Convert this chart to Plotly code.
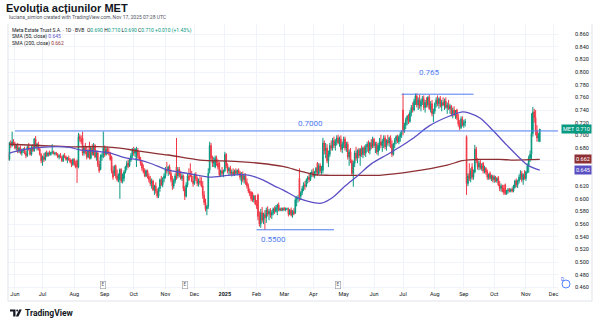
import plotly.graph_objects as go
import pandas as pd

# ---------------- data (prices in thousandths of RON) ----------------
opens = [
    670, 662, 688, 684, 690, 686, 680, 684, 675, 680,
    672, 676, 678, 672, 668, 682, 678, 670, 682, 676,
    694, 682, 686, 678, 670, 660, 666, 662, 672, 668,
    672, 670, 673, 674, 671, 672, 670, 666, 668, 665,
    660, 668, 666, 662, 664, 661, 658, 654, 662, 655,
    660, 650, 698, 694, 696, 672, 680, 674, 666, 684,
    664, 680, 670, 684, 666, 672, 654, 646, 666, 668,
    680, 670, 678, 674, 672, 666, 644, 640, 652, 636,
    630, 630, 646, 628, 632, 642, 650, 656, 652, 661,
    668, 676, 672, 660, 676, 668, 662, 656, 648, 645,
    636, 644, 635, 630, 624, 628, 614, 620, 612, 604,
    616, 630, 622, 632, 636, 646, 644, 650, 640, 630,
    620, 628, 650, 636, 646, 638, 632, 636, 616, 604,
    622, 636, 640, 636, 628, 624, 638, 632, 624, 628,
    626, 620, 606, 594, 584, 588, 645, 684, 664, 656,
    650, 664, 656, 656, 638, 644, 640, 644, 670, 652,
    644, 648, 640, 642, 638, 644, 640, 645, 641, 628,
    638, 630, 636, 626, 620, 612, 610, 609, 598, 604,
    592, 606, 572, 560, 578, 566, 575, 570, 582, 576,
    580, 574, 578, 584, 580, 586, 590, 582, 584, 582,
    585, 583, 584, 584, 576, 582, 574, 580, 578, 598,
    600, 632, 604, 610, 616, 622, 620, 630, 634, 630,
    640, 642, 636, 642, 656, 640, 652, 644, 645, 688,
    676, 680, 660, 670, 684, 680, 692, 684, 690, 696,
    688, 694, 678, 686, 694, 680, 686, 666, 674, 660,
    640, 656, 672, 664, 676, 668, 678, 670, 680, 672,
    682, 686, 676, 688, 682, 694, 684, 686, 674, 684,
    690, 684, 690, 696, 682, 692, 688, 696, 686, 670,
    686, 692, 698, 690, 698, 702, 740, 706, 716, 724,
    730, 722, 736, 744, 740, 754, 762, 748, 756, 746,
    754, 758, 744, 752, 748, 760, 742, 750, 734, 738,
    750, 756, 750, 758, 746, 752, 748, 754, 744, 748,
    742, 746, 734, 740, 732, 740, 728, 718, 712, 726,
    716, 720, 698, 624, 640, 632, 650, 634, 642, 678,
    660, 650, 656, 648, 656, 644, 648, 643, 634, 640,
    632, 636, 630, 634, 628, 633, 622, 616, 620, 616,
    622, 608, 612, 614, 612, 615, 612, 618, 628, 622,
    628, 634, 640, 630, 638, 632, 642, 652, 664, 670,
    703, 737, 728, 708, 696, 690,
]
highs = [
    674, 690, 692, 706, 694, 690, 686, 688, 682, 684,
    678, 680, 682, 676, 684, 688, 680, 684, 686, 696,
    699, 688, 690, 680, 672, 668, 672, 674, 676, 674,
    676, 674, 686, 676, 674, 674, 672, 670, 672, 668,
    670, 672, 668, 666, 668, 664, 662, 664, 664, 660,
    662, 704, 702, 700, 706, 684, 688, 682, 678, 690,
    682, 686, 688, 686, 676, 676, 660, 670, 672, 706,
    684, 682, 682, 680, 674, 668, 652, 653, 654, 646,
    640, 648, 648, 640, 645, 652, 660, 662, 664, 672,
    680, 682, 680, 682, 680, 674, 666, 660, 654, 648,
    646, 646, 640, 636, 632, 630, 622, 626, 616, 618,
    632, 636, 634, 640, 650, 658, 652, 654, 646, 636,
    632, 640, 696, 650, 650, 644, 640, 638, 620, 626,
    640, 648, 656, 644, 636, 640, 642, 635, 632, 635,
    634, 628, 612, 600, 590, 648, 690, 688, 668, 666,
    668, 668, 662, 658, 646, 650, 646, 674, 672, 656,
    650, 652, 646, 648, 646, 648, 646, 648, 644, 642,
    643, 640, 640, 632, 624, 616, 612, 611, 606, 606,
    598, 608, 580, 584, 587, 578, 582, 586, 588, 584,
    585, 582, 586, 588, 590, 592, 594, 586, 586, 586,
    587, 586, 586, 586, 584, 586, 582, 585, 603, 604,
    606, 648, 612, 620, 626, 628, 632, 636, 640, 642,
    646, 648, 644, 650, 658, 656, 656, 652, 696, 692,
    688, 686, 676, 688, 692, 696, 698, 694, 700, 701,
    698, 700, 690, 698, 698, 690, 690, 678, 680, 662,
    660, 676, 682, 678, 680, 680, 684, 682, 684, 686,
    690, 692, 690, 694, 698, 696, 690, 690, 688, 696,
    701, 694, 700, 700, 694, 701, 698, 700, 692, 688,
    696, 700, 701, 700, 706, 708, 766, 720, 728, 732,
    734, 740, 748, 752, 758, 766, 766, 760, 764, 758,
    762, 763, 756, 760, 762, 764, 754, 756, 742, 752,
    760, 763, 760, 762, 756, 760, 758, 760, 752, 756,
    750, 748, 744, 746, 740, 742, 734, 724, 730, 730,
    724, 726, 700, 640, 656, 648, 656, 646, 685, 682,
    664, 660, 661, 656, 658, 652, 650, 646, 640, 643,
    638, 638, 637, 636, 634, 636, 628, 624, 622, 622,
    624, 614, 617, 617, 616, 618, 622, 630, 632, 630,
    638, 645, 644, 640, 645, 644, 656, 668, 676, 735,
    745, 742, 740, 716, 704, 710,
]
lows = [
    660, 660, 680, 682, 684, 678, 676, 672, 672, 670,
    668, 672, 670, 664, 666, 676, 668, 668, 674, 674,
    680, 676, 676, 668, 656, 652, 658, 660, 666, 666,
    668, 668, 670, 670, 668, 668, 664, 662, 664, 658,
    658, 664, 660, 656, 660, 656, 650, 652, 652, 648,
    625, 648, 690, 686, 668, 668, 670, 662, 664, 662,
    662, 668, 668, 664, 660, 650, 641, 645, 660, 664,
    666, 668, 670, 668, 660, 640, 630, 636, 632, 627,
    626, 600, 625, 624, 627, 640, 645, 648, 650, 658,
    664, 668, 666, 650, 664, 660, 652, 644, 640, 634,
    634, 632, 626, 620, 616, 612, 606, 608, 601, 601,
    611, 620, 618, 626, 632, 640, 636, 638, 626, 614,
    616, 624, 630, 632, 634, 630, 628, 612, 598, 602,
    618, 628, 634, 626, 619, 622, 628, 620, 619, 622,
    618, 600, 590, 580, 574, 584, 640, 660, 650, 650,
    648, 652, 646, 634, 634, 636, 634, 642, 648, 640,
    636, 638, 635, 636, 636, 638, 637, 638, 630, 622,
    626, 624, 622, 616, 609, 604, 596, 595, 594, 590,
    584, 566, 556, 554, 562, 560, 551, 562, 572, 566,
    570, 568, 574, 576, 578, 574, 580, 580, 581, 580,
    581, 580, 582, 572, 574, 572, 570, 574, 576, 588,
    594, 596, 598, 606, 612, 614, 618, 624, 626, 628,
    634, 634, 632, 636, 636, 638, 640, 638, 640, 670,
    664, 656, 650, 666, 676, 676, 680, 676, 684, 686,
    682, 674, 672, 680, 676, 674, 662, 652, 656, 636,
    619, 650, 660, 656, 664, 652, 666, 664, 668, 666,
    674, 672, 670, 678, 680, 680, 672, 670, 668, 676,
    680, 674, 680, 678, 676, 684, 682, 680, 666, 668,
    680, 686, 688, 686, 690, 696, 700, 704, 710, 716,
    718, 720, 730, 736, 738, 748, 744, 740, 742, 738,
    748, 740, 736, 744, 744, 740, 736, 730, 721, 734,
    744, 746, 742, 744, 738, 746, 740, 742, 734, 740,
    734, 730, 727, 730, 726, 724, 714, 708, 710, 714,
    712, 714, 606, 620, 628, 626, 630, 630, 640, 656,
    646, 645, 646, 644, 640, 640, 638, 630, 630, 630,
    628, 626, 625, 626, 625, 620, 612, 611, 610, 606,
    606, 606, 608, 610, 610, 610, 610, 616, 618, 617,
    624, 630, 626, 622, 630, 628, 640, 641, 658, 661,
    698, 720, 700, 690, 690, 690,
]
closes = [
    662, 688, 684, 690, 686, 680, 684, 675, 680, 672,
    676, 678, 672, 668, 682, 678, 670, 682, 676, 694,
    682, 686, 678, 670, 660, 666, 662, 672, 668, 672,
    670, 673, 674, 671, 672, 670, 666, 668, 665, 660,
    668, 666, 662, 664, 661, 658, 654, 662, 655, 650,
    650, 698, 694, 690, 672, 680, 674, 666, 676, 664,
    680, 670, 684, 666, 672, 654, 644, 666, 668, 680,
    670, 678, 674, 672, 662, 644, 634, 650, 636, 630,
    638, 646, 628, 638, 642, 650, 656, 652, 661, 668,
    676, 672, 678, 676, 668, 662, 656, 648, 642, 636,
    644, 635, 630, 624, 628, 614, 620, 612, 604, 616,
    630, 622, 632, 636, 646, 644, 650, 640, 630, 620,
    628, 636, 636, 646, 638, 632, 636, 616, 604, 622,
    636, 630, 636, 628, 624, 638, 632, 624, 628, 626,
    620, 606, 594, 584, 588, 640, 684, 664, 656, 660,
    664, 656, 650, 638, 644, 640, 642, 670, 652, 644,
    648, 640, 642, 638, 644, 640, 645, 641, 634, 638,
    630, 636, 626, 620, 612, 608, 600, 598, 604, 592,
    588, 572, 560, 578, 566, 575, 570, 582, 576, 580,
    574, 578, 584, 580, 586, 590, 582, 584, 582, 585,
    583, 584, 584, 576, 582, 574, 580, 576, 598, 600,
    602, 604, 610, 616, 622, 620, 630, 634, 630, 640,
    642, 636, 642, 648, 640, 652, 644, 648, 688, 676,
    680, 660, 670, 684, 680, 692, 684, 690, 696, 688,
    694, 678, 686, 694, 680, 686, 666, 674, 660, 640,
    656, 672, 664, 676, 668, 678, 670, 680, 672, 682,
    686, 676, 688, 682, 694, 684, 686, 674, 684, 690,
    684, 690, 696, 682, 692, 688, 696, 686, 670, 686,
    692, 698, 690, 698, 702, 704, 706, 716, 724, 730,
    722, 736, 744, 740, 754, 762, 748, 756, 746, 754,
    758, 744, 752, 748, 760, 742, 750, 734, 738, 750,
    756, 750, 758, 746, 752, 748, 754, 744, 748, 742,
    746, 734, 740, 732, 736, 728, 718, 712, 726, 716,
    720, 722, 624, 636, 632, 644, 634, 640, 678, 660,
    650, 656, 648, 652, 644, 648, 642, 634, 638, 632,
    636, 630, 634, 628, 632, 622, 616, 620, 612, 610,
    608, 612, 614, 612, 615, 612, 620, 628, 622, 628,
    634, 640, 630, 638, 632, 642, 652, 664, 670, 703,
    737, 728, 708, 696, 700, 710,
]
first_session = "2024-05-27"

sma50_dates = ["2024-05-28", "2024-06-10", "2024-06-20", "2024-07-08", "2024-07-29",
               "2024-08-07", "2024-08-22", "2024-09-06", "2024-09-24", "2024-10-03",
               "2024-10-17", "2024-11-05", "2024-11-25", "2024-12-17", "2025-01-03",
               "2025-01-17", "2025-01-27", "2025-02-07", "2025-02-20", "2025-02-28",
               "2025-03-18", "2025-04-01", "2025-04-09", "2025-04-21", "2025-05-02",
               "2025-05-15", "2025-05-29", "2025-06-13", "2025-06-27", "2025-07-10",
               "2025-07-28", "2025-08-14", "2025-08-29", "2025-09-05", "2025-09-17",
               "2025-09-30", "2025-10-14", "2025-10-28", "2025-11-05", "2025-11-17"]
sma50_vals = [672, 677, 680, 682, 681, 677, 675, 672, 664, 662,
              656, 645, 640, 634, 637, 638, 637, 630, 620, 614,
              600, 594, 593, 602, 620, 636, 655, 669, 682, 695,
              715, 729, 737, 735, 727, 708, 685, 663, 652, 645]

sma200_dates = ["2024-05-28", "2024-06-27", "2024-07-29", "2024-09-02", "2024-09-17",
                "2024-10-07", "2024-11-05", "2024-12-06", "2025-01-10", "2025-02-05",
                "2025-02-28", "2025-03-18", "2025-04-02", "2025-04-17", "2025-05-19",
                "2025-06-06", "2025-07-10", "2025-08-14", "2025-08-29", "2025-09-17",
                "2025-10-07", "2025-10-21", "2025-11-17"]
sma200_vals = [686, 684, 682, 682, 680, 675, 669, 661, 659, 656,
               651, 644, 638, 637, 637, 637, 643, 653, 660, 662,
               662, 661, 662]

tick_dates = ["2024-06-03", "2024-07-01", "2024-08-01", "2024-09-02", "2024-10-01",
              "2024-11-01", "2024-12-02", "2025-01-01", "2025-02-03", "2025-03-03",
              "2025-04-01", "2025-05-01", "2025-06-02", "2025-07-01", "2025-08-01",
              "2025-09-01", "2025-10-01", "2025-11-03", "2025-12-01"]
tick_labels = ["Jun", "Jul", "Aug", "Sep", "Oct", "Nov", "Dec", "<b>2025</b>", "Feb", "Mar",
               "Apr", "May", "Jun", "Jul", "Aug", "Sep", "Oct", "Nov", "Dec"]

price_ticks = [0.46, 0.48, 0.50, 0.52, 0.54, 0.56, 0.58, 0.60, 0.62, 0.64, 0.66,
               0.68, 0.70, 0.72, 0.74, 0.76, 0.78, 0.80, 0.82, 0.84, 0.86]
price_tick_labels = ["0.460", "0.480", "0.500", "0.520", "0.540", "0.560", "0.580", "0.600",
                     "0.620", "", "", "0.680", "0.700", "0.720", "0.740", "0.760", "0.780",
                     "0.800", "0.820", "0.840", "0.860"]

earnings_dates = ["2024-08-30", "2024-11-21", "2025-04-25"]

level_values = [0.707, 0.765, 0.551]
level_starts = ["2024-06-03", "2025-06-30", "2025-02-03"]
level_ends = ["2025-12-10", "2025-09-10", "2025-04-22"]
level_texts = ["0.7000", "0.765", "0.5500"]
level_text_dates = ["2025-03-28", "2025-07-28", "2025-02-19"]
level_text_values = [0.719, 0.7995, 0.536]

last_price = 0.710
sma50_last = 0.645
sma200_last = 0.662

# ---------------- styling ----------------
UP = "#089981"
DOWN = "#F23645"
SMA50_C = "#5B4FC4"
SMA200_C = "#8E2F33"
DRAW_C = "#4F7BEF"
GRID = "#F0F3FA"
TXT = "#131722"
FONT = "Roboto, 'Liberation Sans', sans-serif"

W, H = 600, 325
ML, MR, MT, MB = 8, 42, 24, 36
PW, PH = W - ML - MR, H - MT - MB


def px(x):
    return (x - ML) / PW


def py(y):
    return (H - MB - y) / PH


dates = pd.bdate_range(first_session, periods=len(closes))
k = 1000.0

fig = go.Figure()
fig.add_trace(go.Candlestick(
    x=dates,
    open=[v / k for v in opens], high=[v / k for v in highs],
    low=[v / k for v in lows], close=[v / k for v in closes],
    increasing=dict(line=dict(color=UP, width=1), fillcolor=UP),
    decreasing=dict(line=dict(color=DOWN, width=1), fillcolor=DOWN),
    whiskerwidth=0, showlegend=False, hoverinfo="skip",
))
fig.add_trace(go.Scatter(x=sma200_dates, y=[v / k for v in sma200_vals], mode="lines",
                         line=dict(color=SMA200_C, width=1.3, shape="spline", smoothing=0.8),
                         showlegend=False, hoverinfo="skip"))
fig.add_trace(go.Scatter(x=sma50_dates, y=[v / k for v in sma50_vals], mode="lines",
                         line=dict(color=SMA50_C, width=1.3, shape="spline", smoothing=0.8),
                         showlegend=False, hoverinfo="skip"))

shapes = []
annotations = []

# drawn horizontal levels
for val, s, e in zip(level_values, level_starts, level_ends):
    shapes.append(dict(type="line", xref="x", yref="y", x0=s, x1=e, y0=val, y1=val,
                       line=dict(color=DRAW_C, width=1)))
for t, d, v in zip(level_texts, level_text_dates, level_text_values):
    annotations.append(dict(x=d, y=v, xref="x", yref="y", text=t, showarrow=False,
                            font=dict(size=8, color=DRAW_C, family=FONT)))

# earnings markers
for d in earnings_dates:
    annotations.append(dict(x=d, y=py(285), xref="x", yref="paper", text="E", showarrow=False,
                            font=dict(size=4.5, color="#50535E", family=FONT),
                            bordercolor="#9598A1", borderwidth=0.6, borderpad=0.8,
                            bgcolor="white", yanchor="middle"))

# chart frame
shapes.append(dict(type="line", xref="paper", yref="paper", x0=px(8), x1=px(8), y0=py(301), y1=py(24),
                   line=dict(color="#E0E3EB", width=1)))
shapes.append(dict(type="line", xref="paper", yref="paper", x0=px(8), x1=px(592), y0=py(301), y1=py(301),
                   line=dict(color="#E0E3EB", width=1)))
shapes.append(dict(type="line", xref="paper", yref="paper", x0=px(592), x1=px(592), y0=py(301), y1=py(24),
                   line=dict(color="#E0E3EB", width=1)))


# price tags on the axis
def tag(text, yval, x0, color):
    annotations.append(dict(x=px(x0), y=yval, xref="paper", yref="y", text=text, showarrow=False,
                            xanchor="left", yanchor="middle", bgcolor=color, borderpad=1,
                            font=dict(size=5.5, color="white", family=FONT)))


tag("MET", last_price, 561, UP)
tag("%.3f" % last_price, last_price, 574, UP)
tag("%.3f" % sma200_last, sma200_last, 574, SMA200_C)
tag("%.3f" % sma50_last, sma50_last, 574, SMA50_C)

# dividend marker on axis corner
shapes.append(dict(type="circle", xref="paper", yref="paper", x0=px(562), x1=px(570), y0=py(288), y1=py(280),
                   line=dict(color="#2962FF", width=0.8), fillcolor="white"))
annotations.append(dict(x=px(566), y=py(284), xref="paper", yref="paper", text="D", showarrow=False,
                        font=dict(size=4.5, color="#2962FF", family=FONT)))

# header texts
annotations.append(dict(x=px(4), y=py(8), xref="paper", yref="paper", xanchor="left", yanchor="middle",
                        text="<b>Evoluția acțiunilor MET</b>", showarrow=False,
                        font=dict(size=11, color=TXT, family="'Liberation Sans', Arial, sans-serif")))
annotations.append(dict(x=px(7), y=py(17.5), xref="paper", yref="paper", xanchor="left", yanchor="middle",
                        text="luciana_simion created with TradingView.com, Nov 17, 2025 07:28 UTC",
                        showarrow=False, font=dict(size=5, color="#50535E", family=FONT)))
g = '<span style="color:%s">%%s</span>' % UP
legend1 = ("Meta Estate Trust S.A. · 1D · BVB  O" + g % "0.690" + " H" + g % "0.710" +
           " L" + g % "0.690" + " C" + g % "0.710" + " " + g % "+0.010 (+1.43%)")
annotations.append(dict(x=px(10), y=py(30), xref="paper", yref="paper", xanchor="left", yanchor="middle",
                        text=legend1, showarrow=False, font=dict(size=5, color=TXT, family=FONT)))
annotations.append(dict(x=px(10), y=py(36.5), xref="paper", yref="paper", xanchor="left", yanchor="middle",
                        text='SMA (50, close) <span style="color:%s">0.645</span>' % SMA50_C,
                        showarrow=False, font=dict(size=5, color=TXT, family=FONT)))
annotations.append(dict(x=px(10), y=py(43), xref="paper", yref="paper", xanchor="left", yanchor="middle",
                        text='SMA (200, close) <span style="color:%s">0.662</span>' % SMA200_C,
                        showarrow=False, font=dict(size=5, color=TXT, family=FONT)))

# TradingView logo
shapes.append(dict(type="path", xref="paper", yref="paper", fillcolor=TXT, line=dict(width=0),
                   path="M %f %f L %f %f L %f %f L %f %f L %f %f L %f %f Z" % (
                       px(10), py(309.5), px(15.5), py(309.5), px(15.5), py(316.5), px(13.2), py(316.5),
                       px(13.2), py(311.6), px(10), py(311.6))))
shapes.append(dict(type="circle", xref="paper", yref="paper", fillcolor=TXT, line=dict(width=0),
                   x0=px(16.2), x1=px(18.2), y0=py(311.6), y1=py(309.5)))
shapes.append(dict(type="path", xref="paper", yref="paper", fillcolor=TXT, line=dict(width=0),
                   path="M %f %f L %f %f L %f %f L %f %f Z" % (
                       px(19.2), py(309.5), px(21.8), py(309.5), px(18.4), py(316.5), px(15.8), py(316.5))))
annotations.append(dict(x=px(23), y=py(313), xref="paper", yref="paper", xanchor="left", yanchor="middle",
                        text="<b>TradingView</b>", showarrow=False,
                        font=dict(size=8.5, color=TXT, family=FONT)))

fig.update_layout(
    width=W, height=H, margin=dict(l=ML, r=MR, t=MT, b=MB),
    paper_bgcolor="white", plot_bgcolor="white", showlegend=False,
    font=dict(family=FONT, size=5, color=TXT),
    shapes=shapes, annotations=annotations,
)
fig.update_xaxes(
    type="date", rangebreaks=[dict(bounds=["sat", "mon"])],
    range=["2024-05-27", "2025-12-04 05:00"],
    tickmode="array", tickvals=tick_dates, ticktext=tick_labels,
    showgrid=True, gridcolor=GRID, gridwidth=1, ticks="", showline=False, zeroline=False,
    tickfont=dict(size=5.5, color=TXT, family=FONT), rangeslider_visible=False,
)
fig.update_yaxes(
    side="right", range=[0.4575, 0.8758],
    tickmode="array", tickvals=price_ticks, ticktext=price_tick_labels,
    showgrid=True, gridcolor=GRID, gridwidth=1, ticks="", showline=False, zeroline=False,
    ticklabelstandoff=16, tickfont=dict(size=5.5, color=TXT, family=FONT),
)

fig.write_html("out.html", config={"displayModeBar": False})
